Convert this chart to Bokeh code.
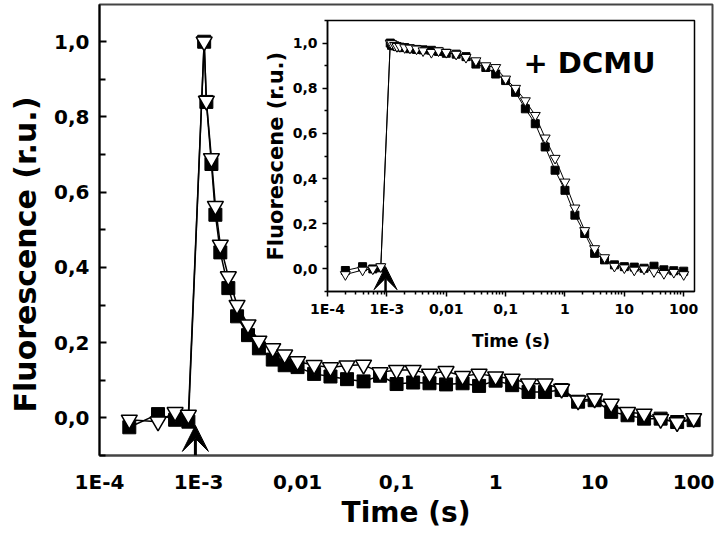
import numpy as np
from bokeh.plotting import figure
from bokeh.layouts import column
from bokeh.models import FixedTicker, Range1d, Arrow, VeeHead, Label, Title
from bokeh.embed import file_html
from bokeh.resources import INLINE

# ---------------- data ----------------
time_s = [2.0e-4, 3.9e-4, 5.8e-4, 7.9e-4,
          1.14e-3, 1.2e-3, 1.35e-3, 1.48e-3, 1.66e-3, 2.0e-3, 2.45e-3, 3.16e-3,
          4.07e-3, 5.62e-3, 7.41e-3,
          0.01, 0.0147, 0.0215, 0.0316, 0.0464, 0.0681,
          0.1, 0.147, 0.215, 0.316, 0.464, 0.681,
          1.0, 1.47, 2.15, 3.16, 4.64, 6.81,
          10.0, 14.7, 21.5, 31.6, 46.4, 68.1, 100.0]

main_triangles = [-0.005, -0.01, 0.015, 0.008,
                  1.0, 0.843, 0.69, 0.563, 0.46, 0.376, 0.30, 0.248, 0.205, 0.185, 0.168,
                  0.15, 0.14, 0.134, 0.139, 0.141, 0.121,
                  0.127, 0.127, 0.117, 0.124, 0.111, 0.117,
                  0.11, 0.104, 0.091, 0.091, 0.077, 0.046,
                  0.051, 0.037, 0.015, 0.011, -0.003, -0.012, -0.001]

main_squares = [-0.025, 0.01, -0.005, -0.01,
                1.0, 0.84, 0.675, 0.54, 0.44, 0.345, 0.27, 0.22, 0.185, 0.155, 0.14,
                0.135, 0.117, 0.11, 0.103, 0.097, 0.112,
                0.09, 0.094, 0.092, 0.089, 0.092, 0.085,
                0.099, 0.087, 0.069, 0.069, 0.074, 0.043,
                0.047, 0.016, 0.007, -0.002, -0.002, -0.011, -0.006]

inset_triangles = [-0.025, -0.005, 0.0, 0.01,
                   1.0, 0.998, 0.99, 0.985, 0.985, 0.98, 0.978, 0.974, 0.966, 0.959, 0.966,
                   0.959, 0.951, 0.937, 0.922, 0.90, 0.892,
                   0.841, 0.80, 0.745, 0.68, 0.58, 0.49,
                   0.385, 0.27, 0.17, 0.09, 0.05, 0.012,
                   0.005, -0.005, 0.0, -0.012, -0.02, -0.015, -0.025]

inset_squares = [-0.007, 0.01, 0.0, 0.005,
                 1.0, 0.99, 0.988, 0.985, 0.982, 0.98, 0.975, 0.972, 0.97, 0.968, 0.963,
                 0.955, 0.951, 0.94, 0.907, 0.892, 0.863,
                 0.834, 0.782, 0.709, 0.643, 0.54, 0.437,
                 0.348, 0.238, 0.157, 0.069, 0.04, 0.018,
                 0.01, 0.008, 0.003, 0.012, -0.004, -0.008, -0.01]

x_tick_values = [1e-4, 1e-3, 0.01, 0.1, 1.0, 10.0, 100.0]
x_tick_labels = ["1E-4", "1E-3", "0,01", "0,1", "1", "10", "100"]
y_tick_values = [0.0, 0.2, 0.4, 0.6, 0.8, 1.0]
y_tick_labels = ["0,0", "0,2", "0,4", "0,6", "0,8", "1,0"]
y_minor_values = [-0.1, 0.1, 0.3, 0.5, 0.7, 0.9, 1.1]

flash_time_main = 9.3e-4
flash_time_inset = 9.5e-4

FONT = "DejaVu Sans"

# ---------------- main figure ----------------
p = figure(width=718, height=551, x_axis_type="log",
           x_range=Range1d(1e-4, 155), y_range=Range1d(-0.1, 1.099),
           output_backend="svg", toolbar_location=None,
           min_border_left=97, min_border_right=6, min_border_top=4, min_border_bottom=96)
p.grid.visible = False
p.outline_line_color = "#444444"
p.outline_line_width = 2

p.xaxis.ticker = FixedTicker(ticks=x_tick_values, minor_ticks=[])
p.xaxis.major_label_overrides = dict(zip(x_tick_values, x_tick_labels))
p.xaxis.major_tick_in = 0
p.xaxis.major_tick_out = 0
p.xaxis.minor_tick_in = 0
p.xaxis.minor_tick_out = 0
p.xaxis.axis_line_color = "#444444"
p.xaxis.axis_line_width = 2
p.xaxis.major_label_standoff = 14
p.xaxis.axis_label = "Time (s)"
p.xaxis.axis_label_standoff = -1

p.yaxis.ticker = FixedTicker(ticks=y_tick_values, minor_ticks=y_minor_values)
p.yaxis.major_label_overrides = dict(zip(y_tick_values, y_tick_labels))
p.yaxis.major_tick_in = 7
p.yaxis.major_tick_out = 0
p.yaxis.minor_tick_in = 6
p.yaxis.minor_tick_out = 0
p.yaxis.major_tick_line_width = 2
p.yaxis.minor_tick_line_width = 2
p.yaxis.axis_line_width = 2
p.yaxis.axis_line_color = "black"
p.yaxis.major_label_standoff = 10

for ax in (p.xaxis, p.yaxis):
    ax.major_label_text_font = FONT
    ax.major_label_text_font_style = "bold"
    ax.major_label_text_font_size = "20px"
    ax.major_label_text_color = "black"
    ax.axis_label_text_font = FONT
    ax.axis_label_text_font_style = "bold"
    ax.axis_label_text_color = "black"
p.xaxis.axis_label_text_font_size = "28px"

p.add_layout(Title(text="Fluorescence (r.u.)", align="left", offset=43,
                   vertical_align="top", standoff=14,
                   text_font=FONT, text_font_size="30px", text_font_style="bold",
                   text_color="black"), "left")

p.line(time_s, main_squares, line_color="black", line_width=1.5)
p.line(time_s, main_triangles, line_color="black", line_width=1.5)
p.scatter(time_s, main_squares, marker="square", size=13,
          fill_color="black", line_color="black")
p.scatter(time_s, main_triangles, marker="inverted_triangle", size=16,
          fill_color="white", line_color="black", line_width=1.5)

p.add_layout(Arrow(end=VeeHead(size=26, fill_color="black", line_color="black"),
                   x_start=flash_time_main, y_start=-0.1,
                   x_end=flash_time_main, y_end=-0.02,
                   line_color="black", line_width=3))

# ---------------- inset figure (transparent, overlaid on the main one) ----------------
# the column aligns the left borders of both figures (97 px), so the inset
# canvas starts at 325 - 97 = 228 to put its frame at x = 325
q = figure(width=472, height=357, x_axis_type="log",
           x_range=Range1d(1e-4, 152), y_range=Range1d(-0.1, 1.1),
           output_backend="svg", toolbar_location=None,
           min_border_left=80, min_border_right=6, min_border_top=6, min_border_bottom=80,
           background_fill_color=None, border_fill_color=None)
q.margin = (-537, 18, 0, 228)
q.grid.visible = False
q.outline_line_color = "black"
q.outline_line_width = 1.5

minor_log = [k * 10.0 ** e for e in range(-4, 3) for k in range(2, 10)]
q.xaxis.ticker = FixedTicker(ticks=x_tick_values, minor_ticks=minor_log)
q.xaxis.major_label_overrides = dict(zip(x_tick_values, x_tick_labels))
q.xaxis.major_tick_in = 0
q.xaxis.major_tick_out = 5
q.xaxis.minor_tick_in = 0
q.xaxis.minor_tick_out = 3
q.xaxis.major_label_standoff = 4
q.xaxis.axis_label = "Time (s)"
q.xaxis.axis_label_standoff = 11

q.yaxis.ticker = FixedTicker(ticks=y_tick_values, minor_ticks=y_minor_values)
q.yaxis.major_label_overrides = dict(zip(y_tick_values, y_tick_labels))
q.yaxis.major_tick_in = 0
q.yaxis.major_tick_out = 5
q.yaxis.minor_tick_in = 0
q.yaxis.minor_tick_out = 3
q.yaxis.major_label_standoff = 5

for ax in (q.xaxis, q.yaxis):
    ax.axis_line_width = 1.5
    ax.major_tick_line_width = 1.5
    ax.minor_tick_line_width = 1.5
    ax.major_label_text_font = FONT
    ax.major_label_text_font_style = "bold"
    ax.major_label_text_font_size = "14px"
    ax.major_label_text_color = "black"
    ax.axis_label_text_font = FONT
    ax.axis_label_text_font_style = "bold"
    ax.axis_label_text_color = "black"
q.xaxis.axis_label_text_font_size = "17px"

q.add_layout(Title(text="Fluorescene (r.u.)", align="left", offset=31,
                   vertical_align="bottom", standoff=4,
                   text_font=FONT, text_font_size="21px", text_font_style="bold",
                   text_color="black"), "left")

q.line(time_s, inset_squares, line_color="black", line_width=1)
q.line(time_s, inset_triangles, line_color="black", line_width=1)
q.scatter(time_s, inset_squares, marker="square", size=8,
          fill_color="black", line_color="black")
q.scatter(time_s, inset_triangles, marker="inverted_triangle", size=10,
          fill_color="white", line_color="black", line_width=1)

q.add_layout(Arrow(end=VeeHead(size=23, fill_color="black", line_color="black"),
                   x_start=flash_time_inset, y_start=-0.1,
                   x_end=flash_time_inset, y_end=0.01,
                   line_color="black", line_width=2.5))

q.add_layout(Label(x=0.2, y=0.913, text="+ DCMU", text_font=FONT,
                   text_font_size="29px", text_font_style="bold",
                   text_baseline="middle", text_color="black"))

layout = column(p, q)
open("out.html", "w").write(file_html(layout, INLINE))
